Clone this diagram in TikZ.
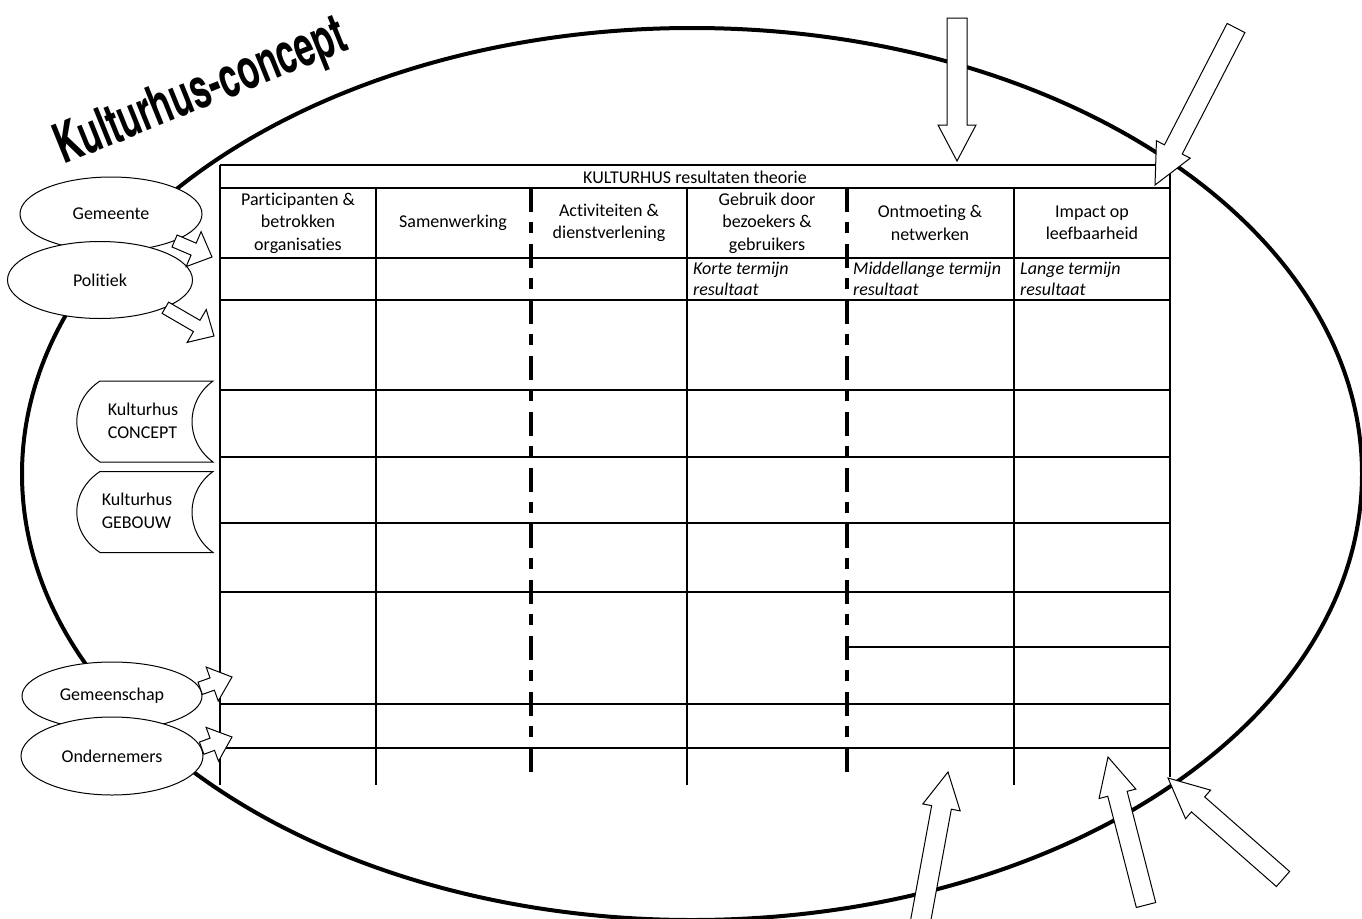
\documentclass[tikz,border=0pt]{standalone}
\usepackage{fontspec}
\setmainfont{Carlito}[Ligatures=NoCommon]
\newfontfamily\kopfont[FakeStretch=0.76]{texgyreheroscn-bold.otf}
\usetikzlibrary{shapes.geometric,calc}

\tikzset{
  lijn/.style={line width=1.3pt},
  streep/.style={line width=4pt, dash pattern=on 24pt off 10pt on 11pt off 11pt},
  groep/.style={ellipse, draw, fill=white, line width=1pt, minimum width=182pt, minimum height=74pt, inner sep=0pt},
  vorm/.style={draw, fill=white, line width=1pt},
  pijl/.style={draw, fill=white, line width=1pt, line join=miter},
  kop/.style={align=center, inner sep=0pt},
  klein/.style={align=left, anchor=north west, inner sep=0pt, font=\fontsize{18}{21}\selectfont\itshape},
}

% blokpijl: van, naar, halve schacht, halve kop, koplengte
\newcommand{\blokpijl}[5]{%
  \coordinate (pijlvoet) at ($(#2)!#5!(#1)$);
  \draw[pijl] ($(#1)!#3!90:(#2)$) -- ($(pijlvoet)!#3!90:(#2)$) -- ($(pijlvoet)!#4!90:(#2)$)
    -- (#2) -- ($(pijlvoet)!#4!-90:(#2)$) -- ($(pijlvoet)!#3!-90:(#2)$) -- ($(#1)!#3!-90:(#2)$) -- cycle;}

% opslagvorm rond een midden
\newcommand{\opslag}[1]{%
  \begin{scope}[shift={(#1)}]
    \draw[vorm] (-45,-40.5) -- (68,-40.5) .. controls (40,-20) and (40,20) .. (68,40.5)
      -- (-45,40.5) .. controls (-76,20) and (-76,-20) .. (-45,-40.5) -- cycle;
  \end{scope}}

\begin{document}
\begin{tikzpicture}[x=1pt,y=-1pt,font=\fontsize{18}{22.5}\selectfont]
  \useasboundingbox (0,0) rectangle (1362,918);

  % grote ovaal
  \draw[line width=4pt] (692,474) ellipse [x radius=670, y radius=446];

  % tabel
  \draw[lijn] (220,165) -- (1170,165);
  \foreach \y in {188,258,300,390,457,523,592,704,748} \draw[lijn] (220,\y) -- (1170,\y);
  \draw[lijn] (847,647) -- (1170,647);
  \draw[lijn] (220,165) -- (220,785);
  \draw[lijn] (1170,165) -- (1170,777);
  \foreach \x in {376,687,1014} \draw[lijn] (\x,188) -- (\x,785);
  \foreach \x in {531,847} \draw[streep] (\x,188) -- (\x,777);

  \node[kop] (titel) at (695,177) {KULTURHUS resultaten theorie};
  \node[kop] (participanten) at (298,223) {Participanten \&\\betrokken\\organisaties};
  \node[kop] (samenwerking) at (453,223) {Samenwerking};
  \node[kop] (activiteiten) at (609,223) {Activiteiten \&\\dienstverlening};
  \node[kop] (gebruik) at (767,223) {Gebruik door\\bezoekers \&\\gebruikers};
  \node[kop] (ontmoeting) at (930,223) {Ontmoeting \&\\netwerken};
  \node[kop] (impact) at (1092,223) {Impact op\\leefbaarheid};
  \node[klein] (kort) at (693,262) {Korte termijn\\resultaat};
  \node[klein] (middel) at (853,262) {Middellange termijn\\resultaat};
  \node[klein] (lang) at (1020,262) {Lange termijn\\resultaat};

  % titel
  \node[rotate=22, anchor=base, inner sep=0pt, font=\kopfont\fontsize{56}{56}\selectfont] (naam) at (207,107) {Kulturhus-concept};

  % links
  \node[groep] (gemeente) at (111,214) {Gemeente};
  \node[groep, minimum width=185pt, minimum height=77pt] (politiek) at (100,280) {Politiek};
  \opslag{145,421.5}
  \node[kop, align=left] (concept) at (143,421) {Kulturhus\\CONCEPT};
  \opslag{145,512}
  \node[kop, align=left] (gebouw) at (137,511) {Kulturhus\\GEBOUW};
  \node[groep, minimum width=180pt, minimum height=68pt] (gemeenschap) at (112,696) {Gemeenschap};
  \node[groep, minimum height=78pt] (ondernemers) at (112,756) {Ondernemers};

  \coordinate (gemeente-in) at (212,257);
  \coordinate (politiek-in) at (214,336);
  \coordinate (gemeenschap-in) at (232,677);
  \coordinate (ondernemers-in) at (232,737);
  \blokpijl{gemeente.-23}{gemeente-in}{6.5pt}{19pt}{20pt}
  \blokpijl{politiek.-23}{politiek-in}{6.5pt}{19pt}{20pt}
  \blokpijl{gemeenschap.5}{gemeenschap-in}{6.5pt}{18pt}{21pt}
  \blokpijl{ondernemers.5}{ondernemers-in}{6.5pt}{18pt}{21pt}

  % grote pijlen
  \coordinate (boven-a) at (957,18);
  \coordinate (boven-b) at (957,161);
  \coordinate (hoek-a) at (1236,28);
  \coordinate (hoek-b) at (1155,185);
  \coordinate (onder1-a) at (918,935);
  \coordinate (onder1-b) at (948,772);
  \coordinate (onder2-a) at (1146,905);
  \coordinate (onder2-b) at (1108,757);
  \coordinate (onder3-a) at (1283,879);
  \coordinate (onder3-b) at (1168,778);
  \blokpijl{boven-a}{boven-b}{10pt}{19pt}{36pt}
  \blokpijl{hoek-a}{hoek-b}{10pt}{19pt}{40pt}
  \blokpijl{onder1-a}{onder1-b}{10pt}{19pt}{36pt}
  \blokpijl{onder2-a}{onder2-b}{10pt}{19pt}{38pt}
  \blokpijl{onder3-a}{onder3-b}{10pt}{19pt}{40pt}
\end{tikzpicture}
\end{document}
